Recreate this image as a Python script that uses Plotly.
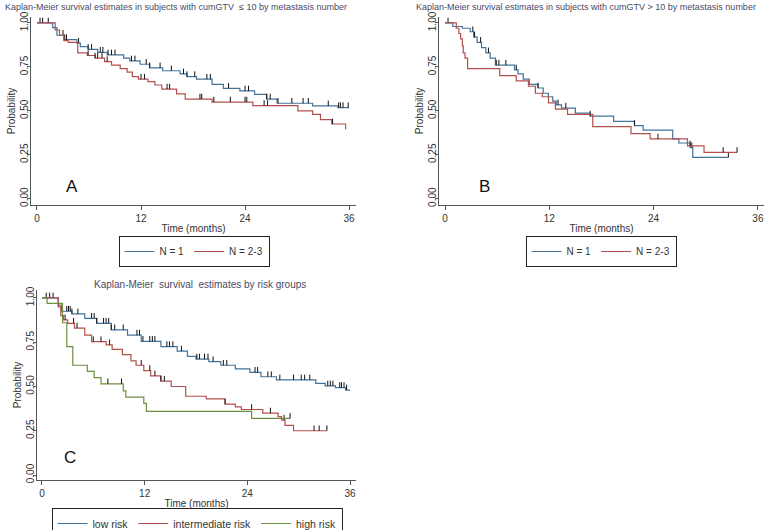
import plotly.graph_objects as go

# ---------------- DATA ----------------
x_ticks = [0, 12, 24, 36]
y_ticks = [0.0, 0.25, 0.50, 0.75, 1.00]
y_ticktext = ["0.00", "0.25", "0.50", "0.75", "1.00"]

# Panel A: cumGTV <= 10
A_n1_t = [0, 1.8, 2.3, 3.1, 4.6, 5.0, 5.9, 7.0, 8.1, 10.0, 10.7, 11.9, 13.0, 14.5, 16.5, 17.3, 18.4, 20.2, 21.5, 23.4, 25.1, 26.5, 27.7, 31.8, 34.7]
A_n1_s = [1.0, 0.973, 0.93, 0.905, 0.885, 0.865, 0.85, 0.833, 0.818, 0.80, 0.784, 0.765, 0.745, 0.728, 0.71, 0.695, 0.68, 0.65, 0.628, 0.613, 0.594, 0.567, 0.543, 0.528, 0.518]
A_n1_end = 36.0
A_n1_cens = [0.35, 0.65, 1.3, 3.0, 3.2, 3.4, 4.8, 5.9, 6.3, 7.3, 7.6, 8.2, 8.6, 9.0, 10.9, 11.3, 12.6, 13.0, 14.2, 15.5, 16.9, 17.3, 18.2, 19.6, 20.0, 22.1, 24.0, 24.4, 26.5, 26.9, 27.8, 29.4, 30.7, 31.3, 33.6, 34.8, 35.0, 35.3, 35.9]

A_n23_t = [0, 2.1, 2.6, 3.1, 3.6, 4.7, 5.8, 6.7, 7.8, 8.6, 9.6, 10.4, 11.0, 11.7, 12.8, 13.6, 14.4, 16.1, 17.1, 20.2, 24.9, 30.1, 31.8, 32.7, 34.0, 35.6]
A_n23_s = [1.0, 0.96, 0.93, 0.90, 0.89, 0.83, 0.815, 0.80, 0.78, 0.76, 0.74, 0.72, 0.695, 0.68, 0.666, 0.647, 0.624, 0.596, 0.567, 0.55, 0.53, 0.50, 0.48, 0.45, 0.425, 0.395]
A_n23_end = 35.6
A_n23_cens = [5.9, 6.7, 7.0, 7.5, 8.1, 12.0, 12.4, 15.0, 15.3, 18.8, 19.0, 20.4, 22.3, 24.0, 24.2, 26.2, 26.6, 34.1]

# Panel B: cumGTV > 10
B_n1_t = [0, 0.9, 2.0, 2.9, 3.3, 3.7, 4.2, 4.7, 5.2, 5.8, 8.0, 8.4, 9.0, 9.7, 10.7, 11.3, 11.9, 12.4, 12.8, 13.4, 15.0, 16.7, 19.4, 21.8, 22.8, 26.2, 26.9, 28.2, 28.5]
B_n1_s = [1.0, 0.98, 0.97, 0.95, 0.92, 0.89, 0.86, 0.83, 0.80, 0.76, 0.733, 0.71, 0.68, 0.65, 0.63, 0.60, 0.58, 0.555, 0.534, 0.515, 0.487, 0.47, 0.44, 0.416, 0.39, 0.34, 0.317, 0.29, 0.235]
B_n1_end = 32.6
B_n1_cens = [0.35, 3.2, 3.4, 4.1, 5.0, 5.9, 6.2, 7.0, 8.2, 10.7, 13.0, 13.9, 16.7, 21.8, 28.4, 32.6]

B_n23_t = [0, 1.3, 1.6, 1.8, 2.0, 2.1, 2.3, 2.6, 6.3, 8.2, 9.6, 10.4, 11.2, 11.9, 12.7, 14.1, 17.0, 21.4, 23.6, 27.9, 29.8]
B_n23_s = [1.0, 0.97, 0.94, 0.91, 0.87, 0.83, 0.80, 0.74, 0.70, 0.67, 0.64, 0.60, 0.58, 0.545, 0.51, 0.48, 0.41, 0.37, 0.34, 0.30, 0.263]
B_n23_end = 33.6
B_n23_cens = [24.5, 28.2, 32.0, 33.6]

# Panel C: risk groups
C_low_t = [0, 1.9, 2.3, 3.5, 5.0, 6.4, 8.1, 10.0, 11.6, 13.9, 15.8, 17.0, 18.0, 19.5, 20.9, 22.6, 24.3, 25.6, 27.4, 32.0, 33.1, 34.3, 35.5]
C_low_s = [1.0, 0.96, 0.925, 0.91, 0.885, 0.857, 0.82, 0.79, 0.755, 0.725, 0.70, 0.67, 0.655, 0.64, 0.62, 0.60, 0.58, 0.555, 0.537, 0.518, 0.503, 0.494, 0.48]
C_low_end = 36.0
C_low_cens = [0.5, 0.9, 1.3, 2.9, 3.1, 3.3, 3.5, 4.2, 5.8, 6.1, 6.4, 7.2, 7.5, 7.8, 8.1, 8.5, 9.5, 11.1, 11.4, 11.8, 12.6, 12.9, 13.2, 14.6, 14.9, 15.3, 16.3, 18.1, 18.4, 19.0, 19.4, 20.0, 21.2, 21.6, 24.9, 25.2, 26.4, 26.8, 27.8, 29.4, 30.3, 30.7, 31.3, 33.4, 33.7, 34.0, 34.8, 35.0, 35.3, 35.6]

C_mid_t = [0, 1.9, 2.2, 2.5, 3.0, 3.8, 5.0, 5.8, 7.5, 8.2, 9.4, 10.4, 11.0, 11.9, 12.7, 13.9, 15.1, 16.8, 19.2, 21.4, 22.6, 23.3, 25.8, 27.6, 28.0, 28.4, 29.4]
C_mid_s = [1.0, 0.95, 0.90, 0.876, 0.857, 0.83, 0.79, 0.753, 0.735, 0.71, 0.68, 0.645, 0.62, 0.59, 0.56, 0.53, 0.50, 0.445, 0.43, 0.40, 0.385, 0.37, 0.35, 0.33, 0.31, 0.28, 0.25]
C_mid_end = 33.3
C_mid_cens = [2.7, 3.7, 4.1, 6.0, 6.9, 7.9, 11.6, 12.6, 13.2, 13.9, 14.3, 21.4, 24.5, 26.7, 28.3, 31.8, 32.4, 33.3]

C_high_t = [0, 0.6, 2.4, 2.9, 3.6, 5.3, 6.1, 6.9, 9.5, 9.8, 11.9, 12.2, 24.5]
C_high_s = [1.0, 0.97, 0.86, 0.725, 0.62, 0.585, 0.55, 0.515, 0.475, 0.44, 0.405, 0.36, 0.32]
C_high_end = 29.0
C_high_cens = [7.7, 9.3, 29.0]

titles = [
    "Kaplan-Meier survival estimates in subjects with cumGTV  \u2264 10 by metastasis number",
    "Kaplan-Meier survival estimates in subjects with cumGTV > 10 by metastasis number",
    "Kaplan-Meier  survival  estimates by risk groups",
]
panel_letters = ["A", "B", "C"]

# ---------------- STYLE ----------------
BLUE = "#44739a"
RED = "#b4504c"
GREEN = "#6e8e40"
AXC = "#555555"
TXT = "#333333"
FONT = "Arial, Liberation Sans, sans-serif"


def surv_at(ts, ss, t):
    v = ss[0]
    for ti, si in zip(ts, ss):
        if ti <= t:
            v = si
    return v


fig = go.Figure()


def add_km(ts, ss, end, cens, color, name, xa, ya, legend):
    fig.add_trace(go.Scatter(
        x=ts + [end], y=ss + [ss[-1]], mode="lines", line_shape="hv",
        line=dict(color=color, width=1.2), name=name,
        xaxis=xa, yaxis=ya, legend=legend, hoverinfo="skip"))
    fig.add_trace(go.Scatter(
        x=cens, y=[surv_at(ts, ss, c) for c in cens], mode="markers",
        marker=dict(size=1, color="rgba(0,0,0,0)"),
        error_y=dict(type="constant", value=0.03, valueminus=0, symmetric=False,
                     width=0, thickness=1, color="#111111"),
        showlegend=False, xaxis=xa, yaxis=ya, hoverinfo="skip"))


add_km(A_n1_t, A_n1_s, A_n1_end, A_n1_cens, BLUE, "N = 1", "x", "y", "legend")
add_km(A_n23_t, A_n23_s, A_n23_end, A_n23_cens, RED, "N = 2-3", "x", "y", "legend")
add_km(B_n1_t, B_n1_s, B_n1_end, B_n1_cens, BLUE, "N = 1", "x2", "y2", "legend2")
add_km(B_n23_t, B_n23_s, B_n23_end, B_n23_cens, RED, "N = 2-3", "x2", "y2", "legend2")
add_km(C_low_t, C_low_s, C_low_end, C_low_cens, BLUE, "low risk", "x3", "y3", "legend3")
add_km(C_mid_t, C_mid_s, C_mid_end, C_mid_cens, RED, "intermediate risk", "x3", "y3", "legend3")
add_km(C_high_t, C_high_s, C_high_end, C_high_cens, GREEN, "high risk", "x3", "y3", "legend3")

W, H = 765, 530


def xaxis(dom, rng, anchor):
    return dict(domain=dom, range=rng, tickvals=x_ticks, showgrid=False, zeroline=False,
                showline=True, linecolor=AXC, linewidth=1, ticks="outside", ticklen=4,
                tickcolor=AXC, tickfont=dict(size=10, color=TXT, family=FONT),
                automargin=False, anchor=anchor, ticklabeloverflow="allow",
                title=dict(text="Time (months)", font=dict(size=10, color=TXT, family=FONT), standoff=1))


def yaxis(dom, rng, anchor):
    return dict(domain=dom, range=rng, tickvals=y_ticks, ticktext=y_ticktext, showgrid=False,
                zeroline=False, showline=True, linecolor=AXC, linewidth=1, ticks="outside",
                ticklen=3, tickcolor=AXC, tickangle=-90, anchor=anchor, automargin=False,
                ticklabelstandoff=-5,
                tickfont=dict(size=10, color=TXT, family=FONT),
                title=dict(text="Probability", font=dict(size=10, color=TXT, family=FONT), standoff=1))


def leg(xc, ytop, fs=10):
    return dict(orientation="h", x=xc, y=ytop, xanchor="center", yanchor="top",
                bordercolor="#222222", borderwidth=1, bgcolor="white",
                font=dict(size=fs, color=TXT, family=FONT),
                tracegroupgap=0, itemwidth=30)


fig.update_layout(
    width=W, height=H, margin=dict(l=0, r=0, t=0, b=0, autoexpand=False),
    paper_bgcolor="white", plot_bgcolor="white", font=dict(family=FONT),
    xaxis=xaxis([31 / W, 356 / W], [-0.69, 36.8], "y"),
    yaxis=yaxis([1 - 205 / H, 1 - 17 / H], [-0.036, 1.034], "x"),
    xaxis2=xaxis([439 / W, 764 / W], [-0.69, 36.7], "y2"),
    yaxis2=yaxis([1 - 205 / H, 1 - 17 / H], [-0.036, 1.034], "x2"),
    xaxis3=xaxis([37 / W, 356 / W], [-0.58, 36.7], "y3"),
    yaxis3=yaxis([1 - 480 / H, 1 - 290 / H], [-0.028, 1.045], "x3"),
    legend=leg(194 / W, 1 - 236 / H),
    legend2=leg(601 / W, 1 - 236 / H),
    legend3=leg(197 / W, 1 - 508 / H, 10.5),
)

title_pos = [(176, 7), (586, 7), (200, 284)]
title_size = [9.0, 9.0, 10.0]
for txt, (px, py), sz in zip(titles, title_pos, title_size):
    fig.add_annotation(text=txt, x=px / W, y=1 - py / H, xref="paper", yref="paper",
                       showarrow=False, xanchor="center", yanchor="middle",
                       font=dict(size=sz, color="#4a4a66", family=FONT))

letter_pos = [("x", "y", 4.0, 0.067), ("x2", "y2", 4.5, 0.067), ("x3", "y3", 3.3, 0.10)]
for letter, (xa, ya, lx, ly) in zip(panel_letters, letter_pos):
    fig.add_annotation(text=letter, x=lx, y=ly, xref=xa, yref=ya, showarrow=False,
                       font=dict(size=17, color="#111111", family=FONT))

fig.write_html("out.html", config={"displayModeBar": False},
               post_script="document.body.style.margin='0px';")
